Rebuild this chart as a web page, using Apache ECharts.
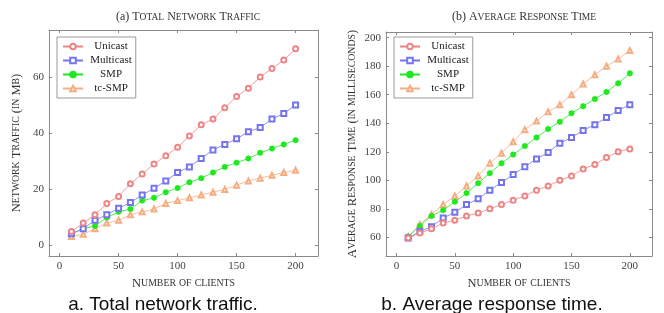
<!DOCTYPE html>
<html>
<head>
<meta charset="utf-8">
<script src="https://cdn.jsdelivr.net/npm/echarts@6/dist/echarts.min.js"></script>
<style>
  html, body { margin: 0; padding: 0; background: #fff; }
  #chart { width: 664px; height: 313px; }
</style>
</head>
<body>
<div id="chart"></div>
<script>
// 数据
var clients = [10, 20, 30, 40, 50, 60, 70, 80, 90, 100, 110, 120, 130, 140, 150, 160, 170, 180, 190, 200];
var names = ['Unicast', 'Multicast', 'SMP', 'tc-SMP'];

// (a) 网络流量 (Mb)
var trafficUnicast = [5, 8, 11, 15, 17.5, 22, 25.5, 29, 32, 35, 39, 43, 45, 49, 53, 56, 60, 63, 66, 70];
var trafficMulticast = [4.2, 6, 9, 11, 13.3, 15.3, 18, 20.4, 23, 26, 28, 31, 34, 36, 38, 40.5, 42, 45, 47, 50];
var trafficSMP = [4.2, 6, 7, 10, 12, 13, 16, 17, 19, 20.5, 22.5, 24, 26, 28, 29.5, 31, 33, 34.5, 36, 37.5];
var trafficTcSMP = [3.2, 4, 6, 8, 9, 11, 12, 13, 15, 16, 17, 18, 19, 20, 21.5, 23, 24, 25, 26, 26.8];

// (b) 平均响应时间 (ms)
var respUnicast = [59.5, 63, 66, 70, 72, 75, 77, 80, 83, 86, 89, 93, 96, 100, 103, 108, 111, 116, 120, 122];
var respMulticast = [59.5, 64, 67.5, 73.5, 77.5, 83, 87, 93, 98.5, 104, 109.5, 115, 119.5, 126, 130, 135, 139, 144, 149, 153];
var respSMP = [60.5, 68, 75, 79, 85, 91, 98, 105, 112, 118, 124, 130, 136, 141, 147, 152, 157, 162, 168, 175];
var respTcSMP = [60.5, 69, 76, 83, 89, 96, 103, 112, 119, 127, 135.5, 141.5, 148, 153, 160, 167.5, 174, 180, 185, 191];

// 刻度
var xTicks = [0, 50, 100, 150, 200];
var yTicksA = [0, 20, 40, 60];
var yTicksB = [60, 80, 100, 120, 140, 160, 180, 200];

var serif = 'Liberation Serif';
var colors = ['#ee8585', '#7474ee', '#1ee81e', '#f6ad82'];
var symbols = ['emptyCircle', 'emptyRect', 'circle', 'emptyTriangle'];
var frame = '#8a8a8a';

// 小型大写字母 (small caps) 用富文本模拟
function sc(str) {
    var out = '';
    var buf = '', mode = null;
    function flush() {
        if (buf) out += '{' + mode + '|' + buf + '}';
        buf = '';
    }
    for (var i = 0; i < str.length; i++) {
        var c = str[i];
        var m = (c >= 'a' && c <= 'z') ? 's' : 'b';
        if (m !== mode) { flush(); mode = m; }
        buf += c.toUpperCase();
    }
    flush();
    return out;
}
function scRich(big, small) {
    return {
        b: { fontFamily: serif, fontSize: big, fontWeight: 'normal', color: '#333' },
        s: { fontFamily: serif, fontSize: small, fontWeight: 'normal', color: '#333' }
    };
}

function pair(ys) {
    return clients.map(function (x, i) { return [x, ys[i]]; });
}

function xAxes(grid) {
    return [{
        type: 'value', gridIndex: grid, position: 'bottom',
        min: -9, max: 219,
        name: sc('Number of clients'), nameLocation: 'middle', nameGap: 18,
        nameTextStyle: { rich: scRich(12.5, 9.8) },
        axisLine: { show: true, onZero: false, lineStyle: { color: frame, width: 1 } },
        axisTick: { show: true, inside: true, length: 3, customValues: xTicks, lineStyle: { color: frame } },
        axisLabel: { customValues: xTicks, fontFamily: serif, fontSize: 11, color: '#444', margin: 5 },
        splitLine: { show: false }
    }, {
        type: 'value', gridIndex: grid, position: 'top',
        min: -9, max: 219,
        axisLine: { show: true, onZero: false, lineStyle: { color: frame, width: 1 } },
        axisTick: { show: true, inside: true, length: 3, customValues: xTicks, lineStyle: { color: frame } },
        axisLabel: { show: false },
        splitLine: { show: false }
    }];
}

function yAxes(grid, min, max, ticks, name, gap) {
    return [{
        type: 'value', gridIndex: grid, position: 'left',
        min: min, max: max,
        name: sc(name), nameLocation: 'middle', nameGap: gap,
        nameTextStyle: { rich: scRich(12.5, 9.8) },
        axisLine: { show: true, onZero: false, lineStyle: { color: frame, width: 1 } },
        axisTick: { show: true, inside: true, length: 3, customValues: ticks, lineStyle: { color: frame } },
        axisLabel: { customValues: ticks, fontFamily: serif, fontSize: 11, color: '#444', margin: 5 },
        splitLine: { show: false }
    }, {
        type: 'value', gridIndex: grid, position: 'right',
        min: min, max: max,
        axisLine: { show: true, onZero: false, lineStyle: { color: frame, width: 1 } },
        axisTick: { show: true, inside: true, length: 3, customValues: ticks, lineStyle: { color: frame } },
        axisLabel: { show: false },
        splitLine: { show: false }
    }];
}

function lineSeries(grid, data) {
    return data.map(function (ys, i) {
        return {
            name: names[i],
            type: 'line',
            xAxisIndex: grid * 2,
            yAxisIndex: grid * 2,
            data: pair(ys),
            symbol: symbols[i],
            symbolSize: i === 2 ? 5.5 : 5,
            showAllSymbol: true,
            lineStyle: { color: colors[i], width: 0.8 },
            itemStyle: { color: colors[i], borderColor: colors[i], borderWidth: 0.5 },
            emphasis: { disabled: true },
            animation: false,
            z: 10 - i
        };
    });
}

function legend(left) {
    return {
        data: names,
        orient: 'vertical',
        left: left, top: 37,
        itemWidth: 20, itemHeight: 7, itemGap: 3,
        padding: [4, 4, 4, 5],
        borderColor: '#999', borderWidth: 1,
        backgroundColor: '#fff',
        formatter: '{c|{name}}',
        textStyle: {
            fontFamily: serif, fontSize: 11, color: '#222',
            rich: { c: { fontFamily: serif, fontSize: 11, color: '#222', width: 46, align: 'center' } }
        },
        selectedMode: false
    };
}

var myChart = echarts.init(document.getElementById('chart'), null, { renderer: 'canvas' });

var option = {
    backgroundColor: '#fff',
    animation: false,
    title: [{
        text: '{b|(a) }' + sc('Total Network Traffic'),
        left: 183, top: 6, textAlign: 'center',
        textStyle: { rich: scRich(12, 9.5) }
    }, {
        text: '{b|(b) }' + sc('Average Response Time'),
        left: 519, top: 6, textAlign: 'center',
        textStyle: { rich: scRich(12, 9.5) }
    }, {
        text: 'a. Total network traffic.',
        left: 163, top: 295, textAlign: 'center', padding: 0,
        textStyle: { fontFamily: 'Liberation Sans', fontSize: 19, fontWeight: 'normal', color: '#111' }
    }, {
        text: 'b. Average response time.',
        left: 492, top: 295, textAlign: 'center', padding: 0,
        textStyle: { fontFamily: 'Liberation Sans', fontSize: 19, fontWeight: 'normal', color: '#111' }
    }],
    legend: [legend(57), legend(394)],
    grid: [
        { left: 49, right: 346, top: 30, bottom: 57 },
        { left: 386, right: 12, top: 32, bottom: 57 }
    ],
    xAxis: xAxes(0).concat(xAxes(1)),
    yAxis: yAxes(0, -3.7, 76.7, yTicksA, 'Network Traffic (in Mb)', 26)
        .concat(yAxes(1, 46.9, 204, yTicksB, 'Average Response Time (in milliseconds)', 27)),
    series: lineSeries(0, [trafficUnicast, trafficMulticast, trafficSMP, trafficTcSMP])
        .concat(lineSeries(1, [respUnicast, respMulticast, respSMP, respTcSMP]))
};

myChart.setOption(option);
</script>
</body>
</html>
